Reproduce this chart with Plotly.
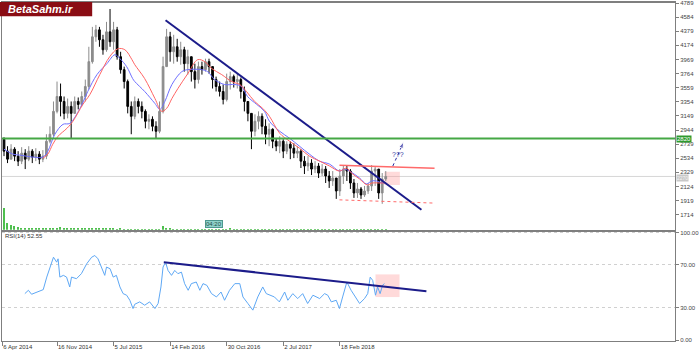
import plotly.graph_objects as go
from plotly.subplots import make_subplots

# ---------------- data ----------------
bar_index = list(range(109))
first_open = 2810
close = [2637, 2521, 2666, 2565, 2492, 2608, 2521, 2637, 2551, 2594,
         2521, 2565, 2781, 2883, 3215, 3431, 3359, 3186, 3287, 3186,
         3359, 3316, 3431, 3576, 3937, 4298, 4399, 4255, 4110, 4370,
         4226, 4399, 4009, 3821, 3648, 3287, 3143, 3359, 3287, 3215,
         3071, 3100, 2998, 2926, 3215, 3865, 4298, 4081, 4153, 4009,
         4110, 3908, 4009, 3792, 3677, 3865, 3821, 3937, 3865, 3677,
         3576, 3504, 3388, 3648, 3720, 3648, 3677, 3504, 3359, 3186,
         2926, 3071, 3143, 2998, 2883, 2955, 2781, 2709, 2781, 2637,
         2738, 2680, 2608, 2637, 2492, 2421, 2464, 2377, 2421, 2319,
         2377, 2276, 2204, 2247, 2059, 2276, 2377, 2348, 2175, 2030,
         2088, 2001, 2059, 2132, 2348, 2377, 2030, 2233, 2270]
high = [2839, 2709, 2738, 2695, 2637, 2695, 2666, 2709, 2666, 2680,
        2637, 2652, 2883, 2998, 3359, 3648, 3619, 3431, 3402, 3359,
        3431, 3417, 3504, 3677, 4153, 4442, 4471, 4442, 4327, 4515,
        4702, 4515, 4442, 4081, 3865, 3677, 3359, 3431, 3402, 3359,
        3244, 3172, 3143, 3071, 3359, 4009, 4413, 4370, 4327, 4269,
        4226, 4153, 4110, 4009, 3908, 3937, 3937, 3980, 3980, 3865,
        3720, 3648, 3605, 3763, 3792, 3749, 3763, 3706, 3576, 3359,
        3186, 3172, 3215, 3186, 3100, 3041, 2969, 2825, 2854, 2810,
        2781, 2781, 2752, 2709, 2666, 2565, 2565, 2521, 2492, 2464,
        2449, 2421, 2348, 2348, 2247, 2377, 2435, 2435, 2377, 2233,
        2175, 2117, 2132, 2175, 2435, 2421, 2377, 2319, 2348]
low = [2565, 2464, 2521, 2492, 2421, 2449, 2377, 2492, 2464, 2492,
       2449, 2478, 2521, 2752, 2854, 3186, 3143, 3100, 3114, 2825,
       3215, 3244, 3287, 3359, 3532, 3908, 4226, 4153, 4038, 4081,
       4153, 4110, 3966, 3763, 3547, 3186, 2883, 3100, 3186, 3114,
       2969, 2955, 2926, 2825, 2897, 3186, 3865, 3937, 3908, 3937,
       3893, 3792, 3749, 3648, 3547, 3619, 3749, 3792, 3763, 3547,
       3504, 3431, 3316, 3359, 3532, 3561, 3547, 3402, 3215, 3071,
       2666, 2854, 2955, 2883, 2738, 2709, 2680, 2637, 2608, 2536,
       2594, 2521, 2536, 2536, 2392, 2305, 2348, 2290, 2319, 2247,
       2276, 2175, 2103, 2132, 1944, 1987, 2161, 2204, 2088, 1958,
       1958, 1944, 1973, 2016, 2059, 2132, 1944, 1872, 2204]
volume = [220, 70, 50, 35, 25, 20, 15, 18, 15, 20,
          15, 18, 20, 15, 18, 20, 25, 15, 18, 20,
          15, 12, 18, 15, 20, 15, 12, 10, 12, 8,
          10, 8, 6, 8, 5, 6, 5, 4, 5, 4,
          5, 4, 5, 4, 6, 35, 20, 8, 6, 5,
          4, 5, 4, 4, 5, 4, 4, 5, 4, 4,
          4, 4, 5, 4, 15, 5, 4, 4, 4, 4,
          6, 4, 4, 4, 4, 4, 4, 4, 4, 4,
          4, 4, 4, 4, 4, 4, 4, 4, 4, 4,
          4, 4, 4, 4, 6, 4, 4, 4, 4, 4,
          4, 4, 4, 4, 6, 4, 4, 6, 4]

ma_blue_idx = [0, 2.5, 4.5, 8.2, 11, 12.4, 14.4, 16.7, 18.6, 21.5, 23.7, 26.3, 29.1,
               31.4, 32.8, 34.7, 36.4, 37, 39.8, 42.7, 44.1, 45.5, 47.5, 50.3, 52,
               55.9, 57.6, 59.6, 62.4, 65.3, 67.2, 68.9, 71.5, 73.7, 75.1, 78, 80.8,
               83.6, 86.4, 89.3, 92.1, 94.9, 96.3, 97.7, 100.6, 102.5, 104, 105.4, 107, 108]
ma_blue_val = [2666, 2594, 2580, 2551, 2551, 2637, 2883, 3027, 3041, 3258, 3504, 3749, 3908,
               4038, 3980, 3865, 3691, 3648, 3504, 3330, 3244, 3359, 3605, 3792, 3821,
               3821, 3792, 3677, 3605, 3605, 3576, 3431, 3316, 3215, 3071, 2926, 2825,
               2709, 2594, 2492, 2449, 2348, 2377, 2348, 2247, 2161, 2204, 2204, 2175, 2180]
ma_red_idx = [11, 12.4, 13.8, 15.3, 17.8, 19.5, 22.3, 24.3, 27.1, 29.9, 32.2, 34.2, 36.2,
              37, 39.8, 42.7, 44.6, 46, 47.5, 49.2, 52, 54.8, 56.8, 58.8, 61.6, 64.4,
              66.7, 68.6, 70.9, 73.2, 75.1, 78, 80.8, 83.6, 86.4, 89.3, 92.1, 94.9,
              96.9, 98.3, 100.6, 102.8, 104.2, 106.2, 108]
ma_red_val = [2536, 2594, 2738, 2854, 2969, 3071, 3316, 3460, 3749, 4009, 4124, 4110, 3966,
              3893, 3691, 3402, 3215, 3258, 3402, 3547, 3763, 3966, 3937, 3836, 3749, 3648,
              3605, 3504, 3359, 3258, 3143, 2897, 2781, 2680, 2565, 2492, 2421, 2348,
              2392, 2319, 2233, 2146, 2175, 2175, 2175]

rsi_idx = [5.9, 6.9, 7.8, 9.2, 11.1, 12.1, 13.0, 14.0, 14.9, 15.3, 15.8, 16.8, 17.7, 18.6,
           19.1, 20.5, 21.9, 23.4, 24.8, 25.7, 26.6, 27.5, 28.5, 29.0, 30.0, 30.9, 31.8,
           32.8, 33.7, 34.7, 35.6, 36.5, 37.0, 38.4, 39.8, 41.2, 42.7, 43.6, 44.4, 45.0,
           45.7, 46.4, 47.4, 48.3, 49.2, 50.2, 51.1, 52.1, 53.0, 54.4, 55.4, 56.3, 57.4,
           58.7, 60.1, 61.4, 62.4, 63.8, 65.3, 66.7, 67.6, 69.0, 70.4, 71.8, 73.2, 74.2,
           75.1, 76.5, 77.9, 79.4, 80.3, 81.7, 83.1, 84.5, 85.9, 87.4, 89.3, 90.7, 91.6,
           92.6, 94.0, 94.9, 95.8, 97.0, 98.2, 99.6, 100.6, 102.0, 102.9, 103.6, 104.3,
           105.1, 105.7, 106.4, 107.1, 107.6]
rsi_val = [43.2, 46.3, 42.6, 44.7, 46.9, 58.6, 67.9, 77.1, 72.5, 75.6, 58.6, 60.2, 58.6, 49.4,
           58.6, 57.1, 61.8, 71.0, 77.1, 78.7, 75.6, 67.9, 60.2, 67.9, 66.4, 58.6, 60.2,
           49.4, 43.2, 41.7, 37.0, 29.3, 33.3, 35.5, 32.4, 35.5, 29.3, 34.0, 49.4, 67.9,
           72.5, 64.8, 60.2, 64.8, 61.8, 63.2, 52.5, 46.3, 52.5, 54.0, 46.3, 52.5, 50.9,
           43.2, 40.1, 44.7, 37.0, 46.3, 52.5, 52.5, 40.1, 34.0, 27.8, 40.1, 49.4, 43.2,
           41.7, 40.1, 35.5, 44.7, 37.0, 43.2, 38.6, 43.2, 34.0, 41.7, 38.6, 43.2, 41.7,
           35.5, 37.0, 29.3, 40.1, 54.0, 46.3, 38.6, 34.0, 38.6, 43.2, 58.6, 55.6,
           41.7, 49.4, 43.2, 50.9, 52.6]

tick_idx = [-0.5, 15, 31, 47, 63, 79, 95]
tick_text = ["6 Apr 2014", "16 Nov 2014", "5 Jul 2015", "14 Feb 2016",
             "30 Oct 2016", "2 Jul 2017", "18 Feb 2018"]
price_ticks = [4789, 4584, 4379, 4174, 3969, 3764, 3559, 3354, 3149, 2944,
               2739, 2534, 2329, 2124, 1919, 1714]
rsi_ticks = [0, 30, 70, 100]

support_level = 2820
current_price = 2270
trend_x = [45.7, 118.1]
trend_y = [4539, 1786]
rsi_trend_x = [45.2, 119.5]
rsi_trend_y = [72.5, 45.4]
resist_x = [94.9, 121.8]
resist_y = [2431, 2388]
floor_x = [94.9, 121.8]
floor_y = [1930, 1883]
arrow_x = [110.0, 113.1]
arrow_y = [2421, 2775]
box_main = dict(x0=107.6, x1=112.0, y0=2147, y1=2339)
box_rsi = dict(x0=105.1, x1=111.9, y0=40.0, y1=61.1)

# ---------------- figure ----------------
open_ = [first_open] + close[:-1]
FONT = "Liberation Sans"
AX = "#7f7f7f"

fig = make_subplots(rows=2, cols=1, shared_xaxes=True)

fig.add_trace(go.Bar(x=bar_index, y=volume, marker_color="#4fbf4f", marker_line_width=0,
                     width=0.4, yaxis="y3", xaxis="x", showlegend=False, hoverinfo="skip"))
fig.add_trace(go.Candlestick(x=bar_index, open=open_, high=high, low=low, close=close,
                             increasing=dict(line=dict(color="#8c8c8c", width=1), fillcolor="#8c8c8c"),
                             decreasing=dict(line=dict(color="#000000", width=1), fillcolor="#000000"),
                             whiskerwidth=0, showlegend=False), row=1, col=1)
fig.add_trace(go.Scatter(x=ma_blue_idx, y=ma_blue_val, mode="lines", line=dict(color="#6f6fff", width=1, shape="spline"),
                         showlegend=False), row=1, col=1)
fig.add_trace(go.Scatter(x=ma_red_idx, y=ma_red_val, mode="lines", line=dict(color="#ff6464", width=1, shape="spline"),
                         showlegend=False), row=1, col=1)
fig.add_trace(go.Scatter(x=trend_x, y=trend_y, mode="lines", line=dict(color="#1c1c8a", width=2),
                         showlegend=False), row=1, col=1)
fig.add_trace(go.Scatter(x=resist_x, y=resist_y, mode="lines", line=dict(color="#ff6a6a", width=1.5),
                         showlegend=False), row=1, col=1)
fig.add_trace(go.Scatter(x=floor_x, y=floor_y, mode="lines", line=dict(color="#ff6a6a", width=1, dash="dot"),
                         showlegend=False), row=1, col=1)
fig.add_trace(go.Scatter(x=arrow_x, y=arrow_y, mode="lines+markers",
                         line=dict(color="#2a2aa0", width=1, dash="dot"),
                         marker=dict(symbol=["circle", "arrow"], size=[0, 7], color="#2a2aa0", angleref="previous"),
                         showlegend=False), row=1, col=1)

fig.add_trace(go.Scatter(x=rsi_idx, y=rsi_val, mode="lines", line=dict(color="#5ea8f5", width=1),
                         showlegend=False), row=2, col=1)
fig.add_trace(go.Scatter(x=rsi_trend_x, y=rsi_trend_y, mode="lines", line=dict(color="#1c1c8a", width=2),
                         showlegend=False), row=2, col=1)

# horizontal levels and boxes
fig.add_shape(type="line", xref="x domain", x0=0, x1=1, yref="y", y0=current_price, y1=current_price,
              line=dict(color="#d6d6d6", width=1), layer="below")
fig.add_shape(type="line", xref="x domain", x0=0, x1=1, yref="y", y0=support_level, y1=support_level,
              line=dict(color="#45a845", width=2))
fig.add_shape(type="rect", xref="x", yref="y", **box_main, fillcolor="rgba(255,150,150,0.35)",
              line_width=0, layer="below")
fig.add_shape(type="rect", xref="x2", yref="y2", **box_rsi, fillcolor="rgba(255,150,150,0.35)",
              line_width=0, layer="below")

# logo
fig.add_shape(type="rect", xref="paper", yref="paper", x0=-0.003, x1=0.134, y0=0.961, y1=1.003,
              fillcolor="#8a0d14", line_width=0)
fig.add_annotation(xref="paper", yref="paper", x=0.006, y=0.982, xanchor="left", yanchor="middle",
                   text="<b><i>BetaSahm.ir</i></b>", showarrow=False,
                   font=dict(family=FONT, size=11, color="#ffffff"))

fig.add_annotation(xref="paper", yref="paper", x=0.0015, y=0.312, xanchor="left", yanchor="middle",
                   text="RSI(14) 52.55", showarrow=False, font=dict(family=FONT, size=6, color="#333333"))
fig.add_annotation(xref="x", yref="y", x=59.3, y=1577, text="04:20", showarrow=False,
                   font=dict(family=FONT, size=6, color="#1f4f4a"), bgcolor="#8fd3ca",
                   bordercolor="#4e9890", borderwidth=1, borderpad=0)
fig.add_annotation(xref="x", yref="y", x=111.4, y=2585, text="???", showarrow=False,
                   font=dict(family=FONT, size=7, color="#3a3aa0"))
fig.add_annotation(xref="paper", yref="y", x=1.0015, y=support_level, xanchor="left", text=str(support_level),
                   showarrow=False, font=dict(family=FONT, size=6, color="#ffffff"), bgcolor="#2e9a2e", borderpad=0)
fig.add_annotation(xref="paper", yref="y", x=1.0015, y=current_price, xanchor="left", yanchor="top",
                   yshift=2, text=str(current_price),
                   showarrow=False, font=dict(family=FONT, size=5, color="#f4f4f4"), bgcolor="#c8c8c8", borderpad=0)

fig.update_layout(
    width=700, height=354, margin=dict(l=2, r=24, t=1, b=13),
    paper_bgcolor="white", plot_bgcolor="white", showlegend=False,
    font=dict(family=FONT, size=6, color="#444444"),
    bargap=0,
)
xr = [-0.565, 189.83]
fig.update_xaxes(range=xr, showgrid=False, zeroline=False, showline=True, mirror=True,
                 linecolor=AX, linewidth=1, rangeslider_visible=False)
fig.update_layout(
    xaxis=dict(domain=[0, 1], showticklabels=False, ticks="", linewidth=2),
    xaxis2=dict(domain=[0, 1], tickvals=tick_idx, ticktext=tick_text, ticks="outside", ticklen=4,
                tickcolor=AX, ticklabelposition="outside right",
                tickfont=dict(family=FONT, size=6, color="#333333")),
    yaxis=dict(domain=[0.3294, 1.0], range=[1497, 4789], side="right", tickvals=price_ticks,
               ticks="outside", ticklen=3, tickcolor=AX, showgrid=False, zeroline=False,
               showline=True, mirror=True, linecolor=AX,
               tickfont=dict(family=FONT, size=6, color="#444444")),
    yaxis2=dict(domain=[0, 0.3265], range=[-0.93, 101.85], side="right", tickvals=rsi_ticks,
                ticktext=["0.00", "30.00", "70.00", "100.00"], ticks="outside", ticklen=3, tickcolor=AX,
                showgrid=True, gridcolor="#d0d0d0", griddash="dot", zeroline=False,
                showline=True, mirror=True, linecolor=AX, linewidth=1,
                tickfont=dict(family=FONT, size=6, color="#444444")),
    yaxis3=dict(domain=[0.3294, 1.0], overlaying="y", anchor="x", range=[0, 2270], visible=False),
)

fig.write_html("out.html")
